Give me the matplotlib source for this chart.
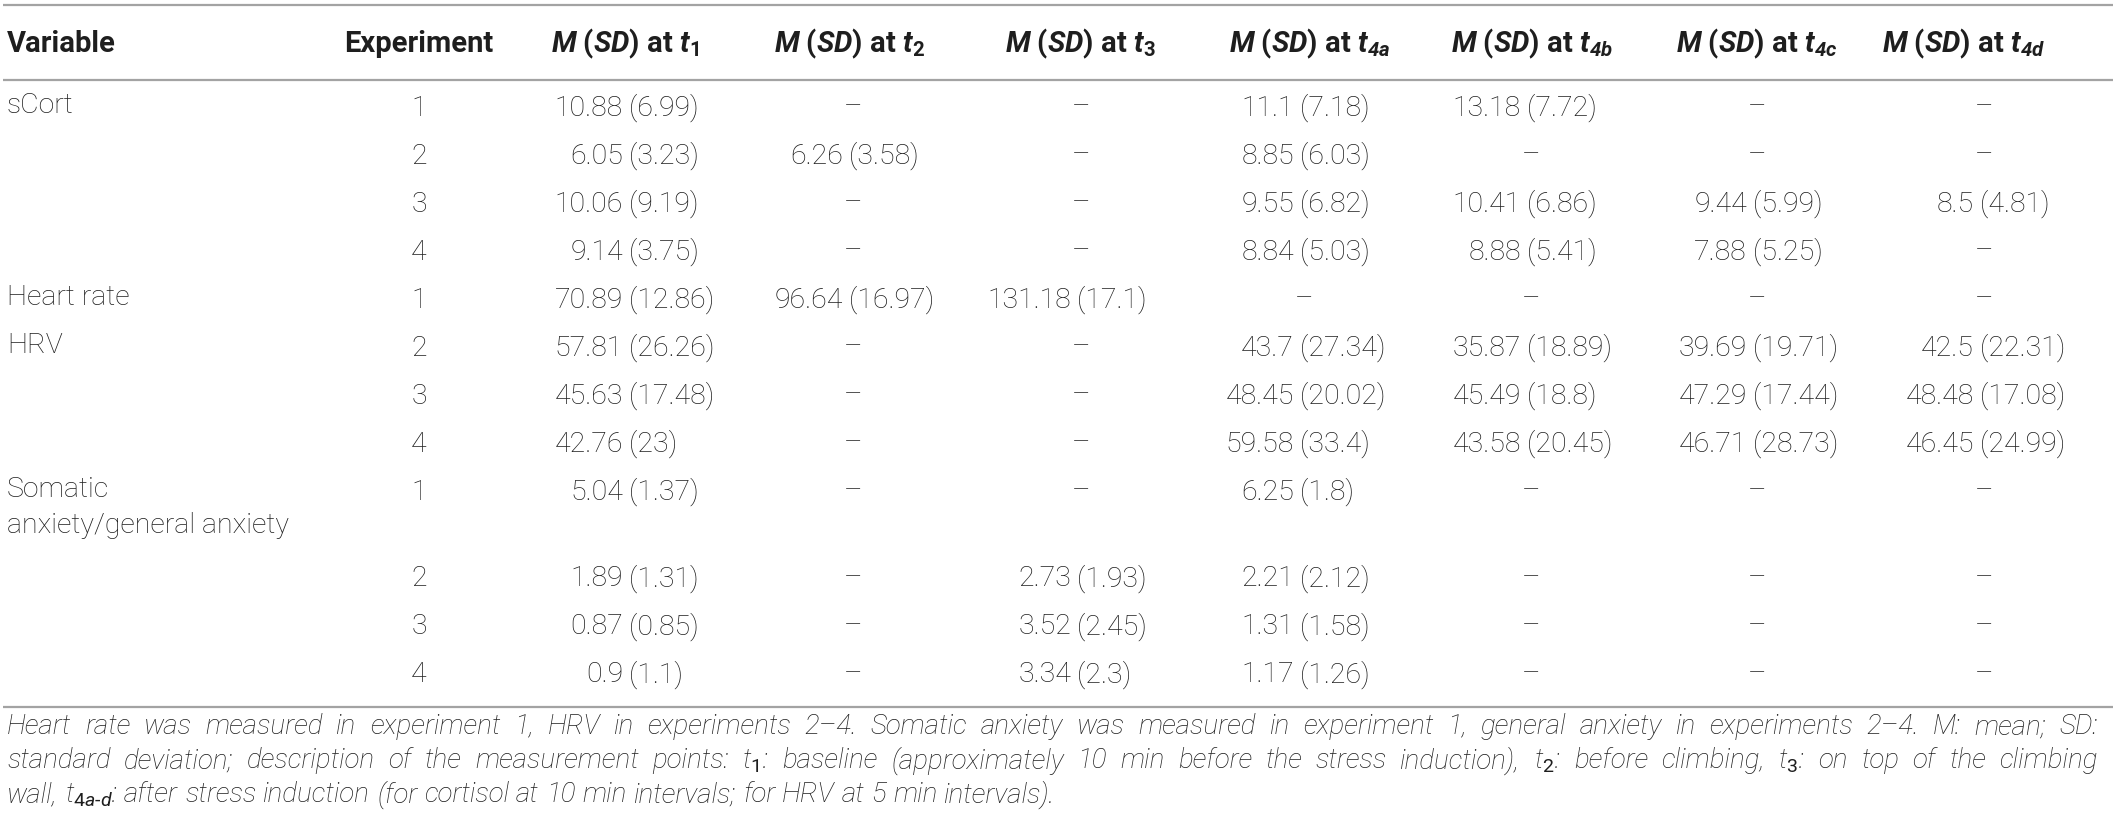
import matplotlib
matplotlib.use("Agg")
import matplotlib.pyplot as plt

# fonts
plt.rcParams['font.family'] = ['Roboto', 'DejaVu Sans']
plt.rcParams['mathtext.fontset'] = 'custom'
plt.rcParams['mathtext.rm'] = 'Roboto'
plt.rcParams['mathtext.it'] = 'Roboto:italic'
plt.rcParams['mathtext.bf'] = 'Roboto:bold'
plt.rcParams['mathtext.bfit'] = 'Roboto:italic:bold'

# table data
variables = ["sCort", "", "", "", "Heart rate", "HRV", "", "",
             "Somatic\nanxiety/general anxiety", "", "", ""]
experiments = [1, 2, 3, 4, 1, 2, 3, 4, 1, 2, 3, 4]

t1 = ["10.88 (6.99)", "6.05 (3.23)", "10.06 (9.19)", "9.14 (3.75)", "70.89 (12.86)",
      "57.81 (26.26)", "45.63 (17.48)", "42.76 (23)", "5.04 (1.37)", "1.89 (1.31)",
      "0.87 (0.85)", "0.9 (1.1)"]
t2 = [None, "6.26 (3.58)", None, None, "96.64 (16.97)", None, None, None,
      None, None, None, None]
t3 = [None, None, None, None, "131.18 (17.1)", None, None, None,
      None, "2.73 (1.93)", "3.52 (2.45)", "3.34 (2.3)"]
t4a = ["11.1 (7.18)", "8.85 (6.03)", "9.55 (6.82)", "8.84 (5.03)", None,
       "43.7 (27.34)", "48.45 (20.02)", "59.58 (33.4)", "6.25 (1.8)", "2.21 (2.12)",
       "1.31 (1.58)", "1.17 (1.26)"]
t4b = ["13.18 (7.72)", None, "10.41 (6.86)", "8.88 (5.41)", None,
       "35.87 (18.89)", "45.49 (18.8)", "43.58 (20.45)", None, None, None, None]
t4c = [None, None, "9.44 (5.99)", "7.88 (5.25)", None,
       "39.69 (19.71)", "47.29 (17.44)", "46.71 (28.73)", None, None, None, None]
t4d = [None, None, "8.5 (4.81)", None, None,
       "42.5 (22.31)", "48.48 (17.08)", "46.45 (24.99)", None, None, None, None]

headers = [r"$\mathbfit{M}$ ($\mathbfit{SD}$) at $\mathbfit{t}_{\mathbf{1}}$",
           r"$\mathbfit{M}$ ($\mathbfit{SD}$) at $\mathbfit{t}_{\mathbf{2}}$",
           r"$\mathbfit{M}$ ($\mathbfit{SD}$) at $\mathbfit{t}_{\mathbf{3}}$",
           r"$\mathbfit{M}$ ($\mathbfit{SD}$) at $\mathbfit{t}_{\mathbfit{4a}}$",
           r"$\mathbfit{M}$ ($\mathbfit{SD}$) at $\mathbfit{t}_{\mathbfit{4b}}$",
           r"$\mathbfit{M}$ ($\mathbfit{SD}$) at $\mathbfit{t}_{\mathbfit{4c}}$",
           r"$\mathbfit{M}$ ($\mathbfit{SD}$) at $\mathbfit{t}_{\mathbfit{4d}}$"]
columns = [t1, t2, t3, t4a, t4b, t4c, t4d]

footnote = [
    "Heart rate was measured in experiment 1, HRV in experiments 2–4. Somatic anxiety was "
    "measured in experiment 1, general anxiety in experiments 2–4. M: mean; SD:",
    "standard deviation; description of the measurement points: t$_1$: baseline (approximately "
    "10 min before the stress induction), t$_2$: before climbing, t$_3$: on top of the climbing",
    "wall, t$_{4a\\text{-}d}$: after stress induction (for cortisol at 10 min intervals; for HRV "
    "at 5 min intervals).",
]

# layout (pixel space)
W, H = 2118, 831
txt = '#1e1e1e'
line_c = '#a3a3a3'
fs = 20.5
fs_head = 21
fs_note = 20

col_x = [629, 849, 1077, 1300, 1527, 1753, 1980]      # where "(" starts
head_x = [625, 849, 1080, 1310, 1532, 1757, 1964]
exp_x = 419
row_h = [48] * 8 + [87] + [48] * 3
row_y = [108]
for h in row_h[:-1]:
    row_y.append(row_y[-1] + h)

fig = plt.figure(figsize=(W / 100, H / 100), dpi=100)
ax = fig.add_axes([0, 0, 1, 1])
ax.set_xlim(0, W)
ax.set_ylim(H, 0)
ax.axis('off')

# rules
for y in [5, 80, 707]:
    ax.plot([3, 2113], [y, y], color=line_c, lw=1.6, solid_capstyle='butt')

# header
ax.text(7, 44, "Variable", fontsize=fs_head, fontweight='bold', color=txt, va='center')
ax.text(exp_x, 44, "Experiment", fontsize=fs_head, fontweight='bold', color=txt,
        va='center', ha='center')
for hx, lab in zip(head_x, headers):
    ax.text(hx, 44, lab, fontsize=fs_head, fontweight='bold', color=txt,
            va='center', ha='center')

# body
for i, y in enumerate(row_y):
    if variables[i]:
        ax.text(7, y - 16, variables[i], fontsize=fs, fontweight='light', color=txt,
                va='top', linespacing=1.45)
    ax.text(exp_x, y, str(experiments[i]), fontsize=fs, fontweight='light', color=txt,
            va='center', ha='center')
    for cx, col in zip(col_x, columns):
        val = col[i]
        if val is None:
            ax.text(cx + 4, y, "–", fontsize=fs, fontweight='light', color=txt,
                    va='center', ha='center')
        else:
            m, sd = val.split(" (")
            ax.text(cx - 6, y, m, fontsize=fs, fontweight='light', color=txt,
                    va='center', ha='right')
            ax.text(cx, y, "(" + sd, fontsize=fs, fontweight='light', color=txt,
                    va='center', ha='left')

# footnote, justified like the journal layout
renderer = fig.canvas.get_renderer()
note_y = [727, 761, 795]
left, right = 7, 2098
for k, (line, y) in enumerate(zip(footnote, note_y)):
    words = line.split(" ")
    arts = [ax.text(0, y, w, fontsize=fs_note, style='italic', fontweight='light',
                    color=txt, va='center') for w in words]
    widths = [a.get_window_extent(renderer).width for a in arts]
    space = fs_note * 100 / 72 * 0.25
    if k < len(footnote) - 1:
        gap = max((right - left - sum(widths)) / (len(words) - 1), space * 0.6)
    else:
        gap = space
    x = left
    for a, w in zip(arts, widths):
        a.set_x(x)
        x += w + gap

fig.savefig("out.png", dpi=100)
